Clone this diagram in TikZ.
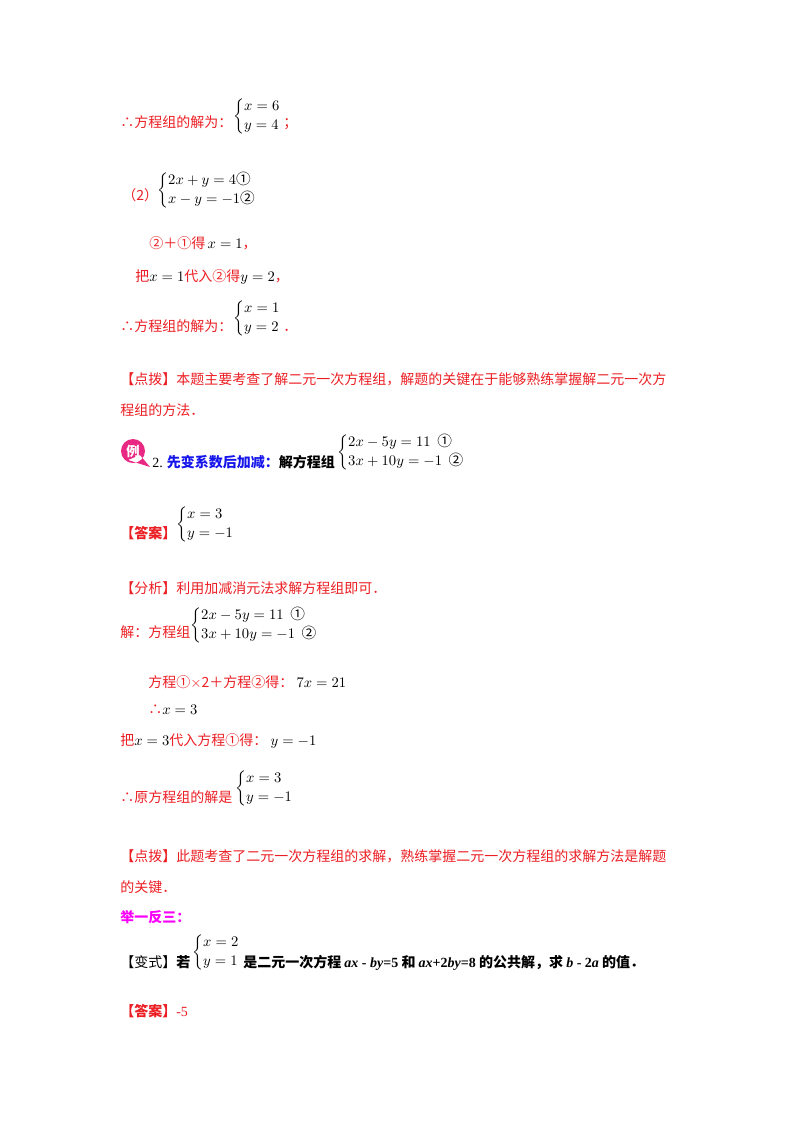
\documentclass[tikz,border=0pt]{standalone}
\usepackage{amsmath}
\usepackage{fontspec}
\setmainfont{Noto Sans CJK SC}
\newfontfamily\tm{Liberation Serif}
\definecolor{rd}{RGB}{235,30,35}
\definecolor{bl}{RGB}{20,20,235}
\definecolor{mg}{RGB}{250,0,250}
\definecolor{pk}{RGB}{232,40,130}
\renewcommand{\arraystretch}{1.2}
\begin{document}
\begin{tikzpicture}[x=0.75pt,y=-0.75pt,
  t/.style={anchor=base west,inner sep=0pt,font=\fontsize{10.5}{12}\selectfont},
  r/.style={t,text=rd},
  c/.style={anchor=west,inner sep=0pt,font=\fontsize{11}{12}\selectfont}]
\useasboundingbox (0,0) rectangle (800,1132);
% block 1
\node[r] (a1) at (120,127) {∴方程组的解为：};
\node[c] (a1c) at (233,116) {$\begin{cases}x=6\\ y=4\end{cases}$};
\node[r] (a1e) at (283,127) {；};
\node[r] (b0) at (122,200) {（2）};
\node[c] (b0c) at (157,190) {$\begin{cases}2x+y=4\text{①}\\ x-y=-1\text{②}\end{cases}$};
\node[r] (b1) at (149,248) {②＋①得\,\textcolor{black}{$x=1$}，};
\node[r] (b2) at (135,281) {把\textcolor{black}{$x=1$}代入②得\textcolor{black}{$y=2$}，};
\node[r] (b3) at (120,331) {∴方程组的解为：};
\node[c] (b3c) at (233,318) {$\begin{cases}x=1\\ y=2\end{cases}$};
\node[r] (b3e) at (283,331) {．};
\node[r] (d1) at (120,384) {【点拨】本题主要考查了解二元一次方程组，解题的关键在于能够熟练掌握解二元一次方};
\node[r] (d2) at (120,415) {程组的方法．};
% example 2
\fill[pk] (133,451) circle (12) (128,460) -- (150,467) -- (140,455) -- cycle;
\node[text=white,inner sep=0pt,font=\fontsize{10}{12}\selectfont\bfseries] (ic) at (133,451) {例};
\node[t] (e1) at (152,467) {{\tm 2.} \textcolor{bl}{\bfseries 先变系数后加减：}\bfseries 解方程组};
\node[c] (e1c) at (337,452) {$\begin{cases}2x-5y=11\ \ \text{①}\\ 3x+10y=-1\ \ \text{②}\end{cases}$};
\node[r] (f1) at (120,538) {\bfseries【答案】};
\node[c] (f1c) at (176,524) {$\begin{cases}x=3\\ y=-1\end{cases}$};
\node[r] (g1) at (120,593) {【分析】利用加减消元法求解方程组即可．};
\node[r] (g2) at (120,637) {解：方程组};
\node[c] (g2c) at (190,625) {$\begin{cases}2x-5y=11\ \ \text{①}\\ 3x+10y=-1\ \ \text{②}\end{cases}$};
\node[r] (g3) at (148,687) {方程①$\times$2＋方程②得：\ \textcolor{black}{$7x=21$}};
\node[r] (g4) at (148,714) {∴\textcolor{black}{$x=3$}};
\node[r] (g5) at (120,745) {把\textcolor{black}{$x=3$}代入方程①得：\ \textcolor{black}{$y=-1$}};
\node[r] (g6) at (120,802) {∴原方程组的解是};
\node[c] (g6c) at (235,788) {$\begin{cases}x=3\\ y=-1\end{cases}$};
\node[r] (h1) at (120,861) {【点拨】此题考查了二元一次方程组的求解，熟练掌握二元一次方程组的求解方法是解题};
\node[r] (h2) at (120,892) {的关键．};
\node[t,text=mg] (k1) at (120,922) {\bfseries 举一反三：};
\node[t] (k2) at (120,967) {【变式】\bfseries 若};
\node[c] (k2c) at (192,952) {$\begin{cases}x=2\\ y=1\end{cases}$};
\node[t] (k3) at (243,967) {\bfseries 是二元一次方程 {\tm\itshape ax}{\tm\ -\ }{\tm\itshape by}{\tm =5} 和 {\tm\itshape ax}{\tm +2}{\tm\itshape by}{\tm =8} 的公共解，求 {\tm\itshape b}{\tm\ -\ 2}{\tm\itshape a} 的值．};
\node[r] (m1) at (120,1016) {\bfseries【答案】\mdseries{\tm -5}};
\end{tikzpicture}
\end{document}
